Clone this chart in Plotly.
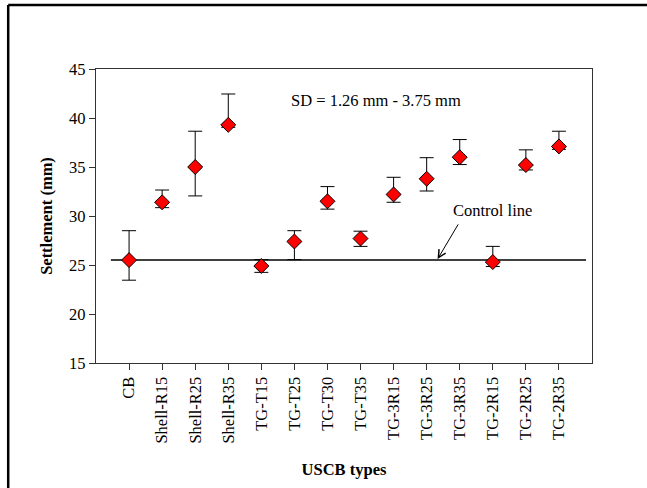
import plotly.graph_objects as go

categories = ["CB", "Shell-R15", "Shell-R25", "Shell-R35", "TG-T15", "TG-T25", "TG-T30",
              "TG-T35", "TG-3R15", "TG-3R25", "TG-3R35", "TG-2R15", "TG-2R25", "TG-2R35"]
settlement = [25.5, 31.4, 35.0, 39.3, 24.9, 27.4, 31.5, 27.7, 32.2, 33.8, 36.0, 25.3, 35.2, 37.1]
err_plus = [3.0, 1.25, 3.65, 3.15, 0.65, 1.1, 1.5, 0.75, 1.75, 2.15, 1.8, 1.6, 1.55, 1.55]
err_minus = [2.05, 0.55, 2.95, 0.25, 0.65, 1.85, 0.8, 0.8, 0.8, 1.25, 0.75, 0.45, 0.5, 0.3]
control_value = 25.5
y_ticks = [15, 20, 25, 30, 35, 40, 45]

FONT = "Liberation Serif"
FS = 16.5
xpos = list(range(len(categories)))

fig = go.Figure()
fig.add_trace(go.Scatter(
    x=xpos, y=settlement, mode="markers",
    marker=dict(symbol="diamond", size=11.5, color="#ff0000", line=dict(color="black", width=1)),
    error_y=dict(type="data", symmetric=False, array=err_plus, arrayminus=err_minus,
                 color="black", thickness=1, width=7),
    showlegend=False,
))

# control line
fig.add_shape(type="line", xref="x", yref="y", x0=-0.55, x1=13.82, y0=control_value, y1=control_value,
              line=dict(color="black", width=1.5), layer="below")

# outer frame (left and top edges)
fig.add_shape(type="line", xref="paper", yref="paper", x0=-0.177, x1=-0.177, y0=1.218, y1=-0.45,
              line=dict(color="black", width=2.5))
fig.add_shape(type="line", xref="paper", yref="paper", x0=-0.177, x1=1.12, y0=1.218, y1=1.218,
              line=dict(color="black", width=2.5))

fig.add_annotation(x=7.47, y=41.8, xref="x", yref="y", text="SD = 1.26 mm - 3.75 mm",
                   showarrow=False, font=dict(family=FONT, size=FS, color="black"))
fig.add_annotation(x=10.99, y=30.55, xref="x", yref="y", text="Control line",
                   showarrow=False, font=dict(family=FONT, size=FS, color="black"))
fig.add_annotation(x=9.33, y=25.6, xref="x", yref="y", ax=9.98, ay=29.3, axref="x", ayref="y",
                   text="", showarrow=True, arrowhead=5, arrowsize=1.5, arrowwidth=1, arrowcolor="black")

fig.update_layout(
    width=647, height=488,
    margin=dict(l=96, r=55, t=69, b=125),
    paper_bgcolor="white", plot_bgcolor="white",
    font=dict(family=FONT, size=FS, color="black"),
    xaxis=dict(
        range=[-1, 14], tickmode="array", tickvals=xpos, ticktext=categories,
        tickangle=-90, ticks="outside", ticklen=6, tickcolor="#333",
        showline=True, linecolor="#333", linewidth=1.2, mirror=True,
        showgrid=False, zeroline=False,
        tickfont=dict(family=FONT, size=FS),
        title=dict(text="<b>USCB types</b>", font=dict(family=FONT, size=FS), standoff=20),
    ),
    yaxis=dict(
        range=[15, 45], tickmode="array", tickvals=y_ticks,
        ticks="outside", ticklen=6, tickcolor="#333",
        showline=True, linecolor="#333", linewidth=1.2, mirror=True,
        showgrid=False, zeroline=False,
        tickfont=dict(family=FONT, size=FS),
        title=dict(text="<b>Settlement (mm)</b>", font=dict(family=FONT, size=FS), standoff=12),
    ),
)

fig.write_html("out.html", config={"displayModeBar": False},
               post_script="document.body.style.margin='0';")
